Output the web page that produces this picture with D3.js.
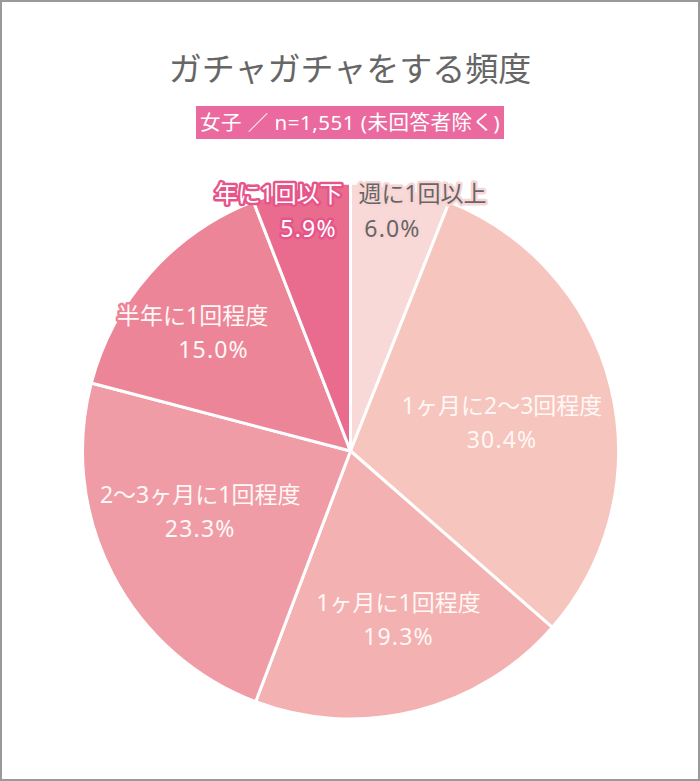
<!DOCTYPE html>
<html><head><meta charset="utf-8">
<script src="https://cdn.jsdelivr.net/npm/d3@7/dist/d3.min.js"></script>
<style>
html,body{margin:0;padding:0;background:#fff;}
svg{display:block;}
text{font-family:"Noto Sans","Noto Sans CJK JP",sans-serif;}
</style></head>
<body>
<script>
// ---- data ----
const title = "ガチャガチャをする頻度";
const subtitle = "女子 ／ n=1,551 (未回答者除く)";
const categories = ["週に1回以上","1ヶ月に2～3回程度","1ヶ月に1回程度","2～3ヶ月に1回程度","半年に1回程度","年に1回以下"];
const values = [6.0, 30.4, 19.3, 23.3, 15.0, 5.9];
const colors = ["#f9d9d7","#f6c5bd","#f4b1b1","#f09ca6","#ec8598","#e96c8e"];

// ---- layout ----
const W = 700, H = 781;
const cx = 350.5, cy = 451, R = 268;
const labelLayout = [
  {top:true, side:1},
  {f:0.578, da:1.7, vdx:0},
  {f:0.64, da:-2.2, vdx:0},
  {f:0.60, da:6.5, vdx:0},
  {f:0.745, da:-4, vdx:21},
  {top:true, side:-1}
];
const textFill = ["#666666","#fff8f6","#fff8f6","#fff8f6","#fff8f6","#ffffff"];
const haloFill = ["#f9d6d6","#f6c5bd","#f4b1b1","#f09ca6","#ec8598","#e6558a"];

const svg = d3.select("body").append("svg").attr("width",W).attr("height",H);
svg.append("rect").attr("x",1).attr("y",1).attr("width",W-2).attr("height",H-2)
  .attr("fill","#fff").attr("stroke","#9a9a9a").attr("stroke-width",2);

svg.append("text").attr("x",350).attr("y",81).attr("text-anchor","middle")
  .attr("font-size",33).attr("fill","#666").text(title);

svg.append("rect").attr("x",196).attr("y",106).attr("width",308).attr("height",33).attr("fill","#ea6aa0");
svg.append("text").attr("x",350).attr("y",130).attr("text-anchor","middle")
  .attr("font-size",20.5).attr("letter-spacing",0.5).attr("fill","#fff").text(subtitle);

const pie = d3.pie().sort(null).value(d=>d.v);
const arcs = pie(categories.map((c,i)=>({c, v:values[i], i})));
const arc = d3.arc().innerRadius(0).outerRadius(R);

const g = svg.append("g").attr("transform",`translate(${cx},${cy})`);
g.selectAll("path.slice").data(arcs).join("path").attr("class","slice")
  .attr("d",arc).attr("fill",d=>colors[d.data.i])
  .attr("stroke","#fff").attr("stroke-width",3).attr("stroke-linejoin","round");

const fmt = d3.format(".1f");
arcs.forEach(d=>{
  const i = d.data.i, L = labelLayout[i];
  let nx, ny, vx, vy;
  if (L.top) {
    nx = L.side*72; vx = L.side*42;
    ny = -R + 19; vy = -R + 54;
  } else {
    const a = (d.startAngle + d.endAngle)/2 + L.da*Math.PI/180;
    const r = R*L.f;
    const x = r*Math.sin(a), y = -r*Math.cos(a);
    nx = x; ny = y - 5; vx = x + L.vdx; vy = y + 29;
  }
  const lines = [[d.data.c, nx, ny, 0],[fmt(d.data.v)+"%", vx, vy, 1.2]];
  lines.forEach(([t,x,y,ls])=>{
    g.append("text").attr("x",x).attr("y",y).attr("text-anchor","middle")
      .attr("font-size",23).attr("letter-spacing",ls).attr("fill",textFill[i])
      .attr("stroke",haloFill[i]).attr("stroke-width",5).attr("stroke-linejoin","round")
      .style("paint-order","stroke").text(t);
  });
});
</script>
</body></html>
